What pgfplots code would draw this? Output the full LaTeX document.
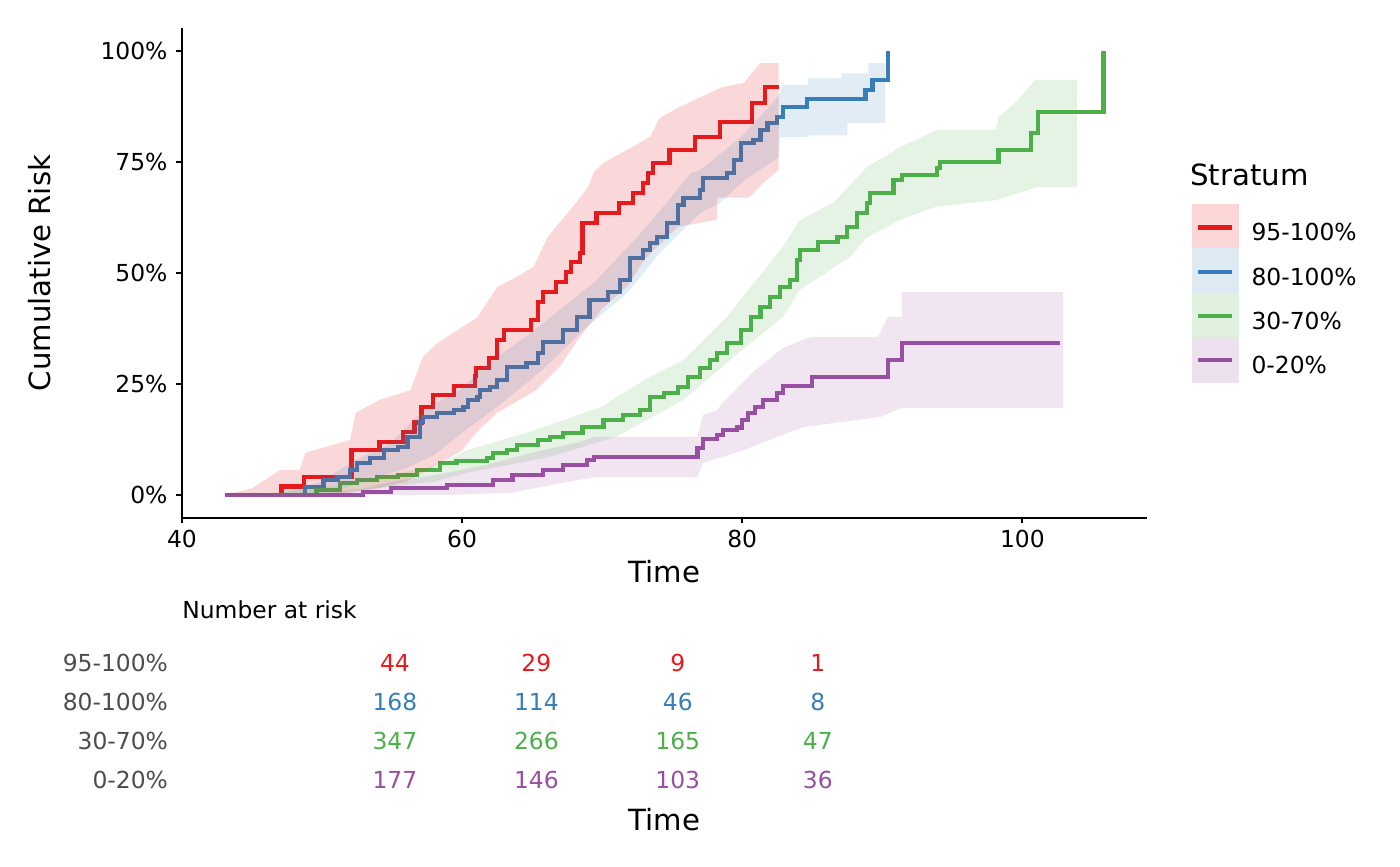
\documentclass[border=0pt]{standalone}
\usepackage{pgfplots}
\pgfplotsset{compat=1.18}
\usepackage{fontspec}
\setmainfont{DejaVu Sans}
\definecolor{cR}{HTML}{E41A1C}
\definecolor{cB}{HTML}{377EB8}
\definecolor{cG}{HTML}{4DAF4A}
\definecolor{cP}{HTML}{984EA3}
\definecolor{gr30}{HTML}{4D4D4D}
\newcommand{\smallf}{\fontsize{11.7}{13}\selectfont}
\newcommand{\bigf}{\fontsize{14.6}{16}\selectfont}
\begin{document}
\begin{tikzpicture}
\path[use as bounding box] (-91pt,-174pt) rectangle (609pt,259pt);
\begin{axis}[
  at={(0pt,0pt)}, anchor=south west,
  scale only axis, width=482.5pt, height=245pt,
  xmin=40, xmax=108.9, ymin=-5.2, ymax=105.2,
  axis x line*=bottom, axis y line*=left,
  axis line style={-, line width=1pt, black},
  xtick={40,60,80,100}, ytick={0,25,50,75,100},
  yticklabels={0\%,25\%,50\%,75\%,100\%},
  tick align=outside, major tick length=2.75pt,
  tick style={line width=1pt, black},
  ticklabel style={font=\smallf},
  yticklabel style={xshift=-1pt},
  /pgf/number format/assume math mode=true,
  xlabel={Time}, ylabel={Cumulative Risk},
  label style={font=\bigf},
  xlabel style={at={(axis description cs:0.5,-0.1102)}, anchor=center},
  ylabel style={at={(axis description cs:-0.1472,0.5)}, anchor=center},
  clip=false,
  legend style={at={(axis description cs:1.0466,0.641)}, anchor=north west,
    draw=none, fill=none, font=\smallf, row sep=-1pt, inner sep=0pt,
    nodes={inner sep=0pt},
    /tikz/every odd column/.append style={column sep=6.5pt}},
  legend cell align=left,
]
% ---- step lines ----
\addplot[cR, line width=2.1pt, const plot,
  legend image code/.code={\fill[cR!18] (0pt,-7.3pt) rectangle (21pt,13.7pt); \draw[cR, line width=2.1pt] (2pt,3.2pt) -- (19pt,3.2pt);}]
coordinates {(43.1,0) (47.1,1.9) (48.7,4.0) (52.1,10.1) (54.1,12.0) (55.8,14.2) (56.6,16.3) (57.1,19.8) (57.9,22.5) (59.4,24.5) (60.9,26.8) (61.0,28.6) (61.9,30.8) (62.5,34.9) (63.0,37.2) (64.9,39.4) (65.4,43.5) (65.8,45.7) (66.7,48.0) (67.4,50.2) (67.8,52.5) (68.4,54.5) (68.6,61.3) (69.6,63.5) (71.2,65.8) (72.2,68.0) (72.9,70.3) (73.3,72.5) (73.6,74.8) (74.8,77.7) (76.6,80.6) (78.4,84.0) (80.7,88.3) (81.6,91.9) (82.6,91.9)};
\addlegendentry{95-100\%}
\addplot[cB, line width=2.1pt, const plot,
  legend image code/.code={\fill[cB!17] (0pt,-7.3pt) rectangle (21pt,13.7pt); \draw[cB, line width=2.1pt] (2pt,3.2pt) -- (19pt,3.2pt);}]
coordinates {(43.1,0) (48.8,1.8) (50.1,3.4) (51.1,4.0) (52.0,5.6) (52.5,7.2) (53.4,8.3) (54.4,10.1) (55.4,10.8) (56.1,13.1) (57.0,16.4) (57.2,17.6) (58.2,18.5) (59.4,19.1) (60.1,19.8) (60.4,21.4) (61.1,22.1) (61.3,23.6) (62.0,24.3) (62.5,25.9) (63.2,28.8) (64.6,29.7) (65.4,32.0) (65.8,34.5) (67.2,37.2) (68.2,40.1) (69.1,43.9) (70.4,45.7) (71.3,48.4) (72.0,53.4) (72.9,55.2) (73.4,56.8) (73.9,58.1) (74.6,61.3) (75.4,65.3) (75.8,66.9) (77.0,68.7) (77.2,71.4) (78.9,72.5) (79.4,75.5) (79.9,79.3) (80.8,80.0) (81.3,82.2) (81.8,83.8) (82.5,85.1) (82.9,87.4) (84.6,89.2) (88.8,91.2) (89.3,93.5) (90.4,100)};
\addlegendentry{80-100\%}
\addplot[cG, line width=2.1pt, const plot,
  legend image code/.code={\fill[cG!17] (0pt,-7.3pt) rectangle (21pt,13.7pt); \draw[cG, line width=2.1pt] (2pt,3.2pt) -- (19pt,3.2pt);}]
coordinates {(43.1,0) (49.6,1.1) (51.3,2.7) (52.5,3.4) (53.9,4.0) (55.4,4.5) (56.8,5.6) (58.4,7.2) (59.6,7.7) (61.8,8.3) (62.2,9.5) (63.2,10.1) (63.9,11.3) (65.4,12.4) (66.3,13.1) (67.2,14.0) (68.6,15.3) (70.1,16.9) (71.5,18.0) (72.7,19.1) (73.4,22.1) (74.4,23.0) (75.4,24.3) (76.1,26.6) (77.0,28.6) (77.7,30.4) (78.2,32.0) (78.9,34.2) (79.9,37.2) (80.6,40.1) (81.3,42.3) (82.0,44.6) (82.7,46.8) (83.4,48.4) (83.9,52.9) (84.1,55.2) (85.4,57.0) (86.8,58.1) (87.5,60.4) (88.2,63.5) (88.9,65.8) (89.1,68.0) (90.8,70.9) (91.4,72.1) (93.9,73.6) (94.1,75.0) (98.3,77.7) (100.6,81.5) (101.1,86.3) (105.8,100)};
\addlegendentry{30-70\%}
\addplot[cP, line width=2.1pt, const plot,
  legend image code/.code={\fill[cP!17] (0pt,-7.3pt) rectangle (21pt,13.7pt); \draw[cP, line width=2.1pt] (2pt,3.2pt) -- (19pt,3.2pt);}]
coordinates {(43.1,0) (52.9,0.7) (54.9,1.5) (58.9,2.3) (62.2,3.4) (63.6,4.5) (65.8,5.6) (67.2,6.8) (68.9,7.9) (69.4,8.6) (76.8,10.5) (77.2,12.6) (78.2,13.5) (78.6,14.6) (79.6,15.2) (80.0,16.9) (80.4,18.5) (80.9,19.8) (81.5,21.4) (82.5,23.0) (82.9,24.6) (85.0,26.6) (90.4,30.4) (91.4,34.2) (102.7,34.2)};
\addlegendentry{0-20\%}
% ---- confidence bands ----
\addplot[forget plot, draw=none, fill=cR, fill opacity=0.17] coordinates {
(43.1,0) (45.0,1.5) (47.0,5.6) (48.4,5.6) (48.8,9.5) (52.0,12.4) (52.4,18.5) (54.1,21.4) (56.3,23.6) (57.2,31.1) (58.2,34.2) (61.1,40) (62.5,46.8) (64.1,49.5) (65.1,51.4) (66.1,58.1) (67.9,64.9) (69.0,69.4) (69.4,72.7) (70.1,74.8) (73.4,80.6) (74.1,84.9) (75.4,87.2) (77.0,89.6) (78.6,91.9) (80.1,92.8) (81.3,97.3) (82.6,97.3)
(82.6,73.2) (81.5,70.3) (80.5,67) (78.2,67) (78.2,62) (75.4,60.4) (73,53) (71.8,47) (70,42) (68.4,35.6) (67,29) (65.3,23.6) (62.5,18.5) (61,14) (60,10) (57.5,5.5) (56,3) (54,1.5) (52,0.5) (50,0)} -- cycle;
\addplot[forget plot, draw=none, fill=cB, fill opacity=0.15] coordinates {
(43.1,0) (47,0.5) (50,3) (52,7.2) (54.9,11.7) (57.2,19) (60,24) (61.5,28.8) (64.9,36.5) (67.2,42.3) (69.6,48.4) (72.5,58.1) (74.6,65.8) (76.3,72.5) (77,73.2) (79.9,80.6) (81.5,86) (82.6,90) (82.9,92.3) (84.7,92.3) (84.7,93.9) (87.1,93.9) (87.1,95) (89,95) (89,97.3) (90.2,97.3)
(90.2,83.8) (87.5,83.8) (87.5,81) (84.7,81) (84.7,80.6) (82.7,80.6) (82.6,76) (80.2,71) (78.4,65.8) (77,63.5) (74.1,54.5) (71.8,45.5) (68.9,37.8) (65.5,27.5) (62.5,19.8) (60,14) (58,9) (56,6) (53,3) (50,0)} -- cycle;
\addplot[forget plot, draw=none, fill=cG, fill opacity=0.15] coordinates {
(43.1,0) (46,0.3) (50,1.5) (54,4) (58,6.5) (60.4,10.1) (65.2,14.6) (69.9,19.8) (73.4,26.6) (75.8,30.4) (78.9,40.1) (80.6,46.8) (82.9,55.9) (84.1,61.9) (86.5,65.8) (88.9,73.9) (91.3,78.4) (93.9,82.2) (98.1,82.2) (98.3,85.1) (99.7,89) (100.9,93.5) (103.9,93.5)
(103.9,69.4) (101.1,69.4) (100.4,68.7) (98.1,66.4) (93.9,65) (91.3,62) (88.9,58) (87.7,53.6) (84.1,46.2) (82.9,40.1) (79.4,31.1) (75.8,21.4) (71,13.1) (66.3,8.6) (60.4,5) (58,3) (54,1.5) (50,0)} -- cycle;
\addplot[forget plot, draw=none, fill=cP, fill opacity=0.15] coordinates {
(43.1,0) (50,0.3) (53,1.5) (55,3) (59,5) (62,7) (65,9.5) (68.5,12) (69.4,13.1) (76.8,13.1) (77.2,18) (78.2,19.1) (78.6,20.7) (80.7,27.5) (82.9,33.1) (84.9,35.6) (89.7,35.6) (90.4,40.1) (91.4,40.1) (91.4,45.7) (102.9,45.7)
(102.9,19.6) (91.4,19.6) (89.9,17.6) (84.4,15.3) (82.5,13.1) (80.1,10.1) (77.2,7.2) (76.8,4) (69.6,4) (68.5,3.5) (66,2) (63.5,0.5) (59,0)} -- cycle;
\node[anchor=west, font=\bigf, inner sep=0pt] at (axis description cs:1.0446,0.700) {Stratum};
\end{axis}
% ---- risk table ----
\begin{axis}[
  at={(0pt,-140.75pt)}, anchor=south west,
  scale only axis, width=482.5pt, height=78pt,
  xmin=40, xmax=108.9, ymin=0.5, ymax=4.5,
  axis line style={draw=none},
  xtick=\empty, ytick={1,2,3,4},
  yticklabels={0-20\%,30-70\%,80-100\%,95-100\%},
  major tick length=0pt,
  yticklabel style={font=\smallf, text=gr30, xshift=-3.5pt},
  clip=false,
  xlabel={Time},
  xlabel style={font=\bigf, at={(axis description cs:0.5,-0.1314)}, anchor=center},
  nodes near coords, point meta=explicit symbolic,
  nodes near coords style={anchor=center, font=\smallf},
]
\addplot[draw=none, mark=none, cR] coordinates {(55.2,4) [44] (65.3,4) [29] (75.4,4) [9] (85.4,4) [1]};
\addplot[draw=none, mark=none, cB] coordinates {(55.2,3) [168] (65.3,3) [114] (75.4,3) [46] (85.4,3) [8]};
\addplot[draw=none, mark=none, cG] coordinates {(55.2,2) [347] (65.3,2) [266] (75.4,2) [165] (85.4,2) [47]};
\addplot[draw=none, mark=none, cP] coordinates {(55.2,1) [177] (65.3,1) [146] (75.4,1) [103] (85.4,1) [36]};
\node[anchor=west, font=\smallf, inner sep=0pt] at (axis cs:40,5.36) {Number at risk};
\end{axis}
\end{tikzpicture}
\end{document}
